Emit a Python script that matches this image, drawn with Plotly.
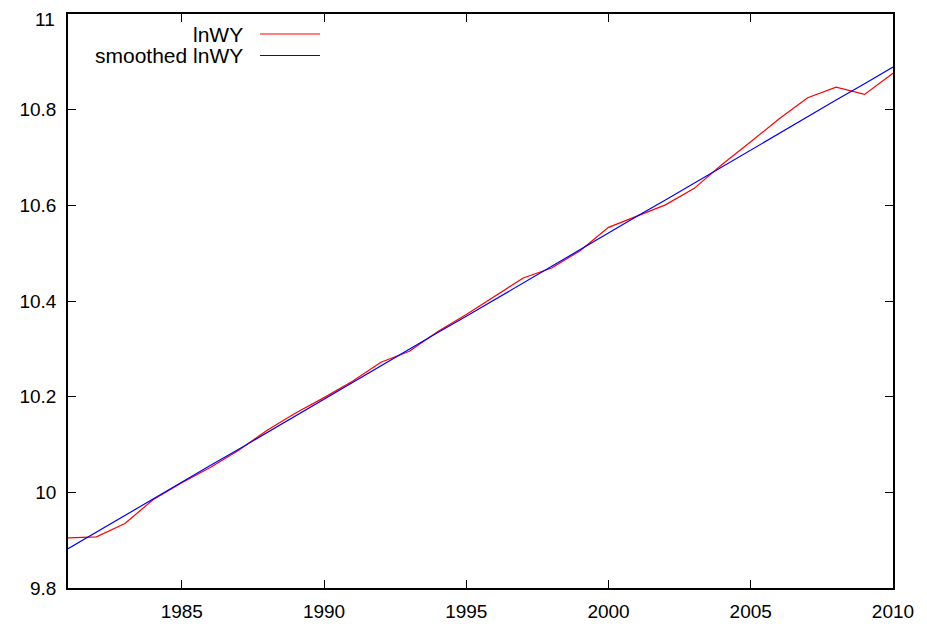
import plotly.graph_objects as go

years = list(range(1981, 2011))
lnWY = [9.905, 9.907, 9.935, 9.985, 10.020, 10.052, 10.088, 10.130, 10.166, 10.198,
        10.232, 10.272, 10.295, 10.336, 10.372, 10.410, 10.448, 10.469, 10.505, 10.554,
        10.578, 10.601, 10.635, 10.686, 10.733, 10.781, 10.825, 10.847, 10.832, 10.876]
smoothed = [9.882, 9.917, 9.952, 9.986, 10.021, 10.056, 10.090, 10.125, 10.160, 10.195,
            10.229, 10.264, 10.299, 10.334, 10.368, 10.403, 10.438, 10.472, 10.507, 10.542,
            10.577, 10.611, 10.646, 10.681, 10.715, 10.750, 10.785, 10.820, 10.854, 10.889]
x_ticks = [1985, 1990, 1995, 2000, 2005, 2010]
y_ticks = [9.8, 10.0, 10.2, 10.4, 10.6, 10.8, 11.0]
y_labels = ["9.8", "10", "10.2", "10.4", "10.6", "10.8", "11"]
names = ["lnWY", "smoothed lnWY"]
colors = ["#ff0000", "#0000ff"]

FONT = "Liberation Sans, Arial, sans-serif"

fig = go.Figure()
for ys, nm, c in zip([lnWY, smoothed], names, colors):
    fig.add_trace(go.Scatter(x=years, y=ys, mode="lines", name=nm,
                             line=dict(color=c, width=1.2), showlegend=False))

# page body adds an 8px offset; compensate so the plot lands where the reference has it
OFF = 8
W, H = 927 - OFF, 626 - OFF
L, R, T, B = 68 - OFF, 34, 14 - OFF, 38
pw, ph = W - L - R, H - T - B
def px(xp):
    return (xp - OFF - L) / pw
def py(yp):
    return 1 - (yp - OFF - T) / ph

# gnuplot-style legend: right-aligned text, line sample on the right
for i, (nm, c) in enumerate(zip(names, colors)):
    yc = 34 + i * 21.5
    fig.add_annotation(x=px(245), y=py(yc), xref="paper", yref="paper",
                       text=nm, showarrow=False, xanchor="right", yanchor="middle",
                       font=dict(family=FONT, size=21, color="black"))
    fig.add_shape(type="line", xref="paper", yref="paper",
                  x0=px(260), x1=px(320), y0=py(yc), y1=py(yc),
                  line=dict(color=c, width=1.2))

# top y label: the tick label would be clipped by the page edge, so place it as text just inside
tick_text = list(y_labels)
top_label = tick_text[-1]
tick_text[-1] = ""
fig.add_annotation(x=px(56), y=py(OFF), xref="paper", yref="paper",
                   text=top_label, showarrow=False, xanchor="right", yanchor="top",
                   borderpad=0,
                   font=dict(family=FONT, size=19, color="black"))

axis_common = dict(showline=True, linecolor="black", linewidth=1.5, mirror="ticks",
                   ticks="inside", ticklen=8, tickwidth=1.2, tickcolor="black",
                   showgrid=False, zeroline=False, automargin=False,
                   ticklabeloverflow="allow",
                   tickfont=dict(family=FONT, size=19, color="black"))

fig.update_layout(
    width=W, height=H,
    margin=dict(l=L, r=R, t=T, b=B),
    paper_bgcolor="white", plot_bgcolor="white",
    xaxis=dict(range=[1981, 2010], tickvals=x_ticks, ticklabelstandoff=5, **axis_common),
    yaxis=dict(range=[9.8, 11.0], tickvals=y_ticks, ticktext=tick_text, ticklabelstandoff=6, **axis_common),
)

fig.write_html("out.html")
